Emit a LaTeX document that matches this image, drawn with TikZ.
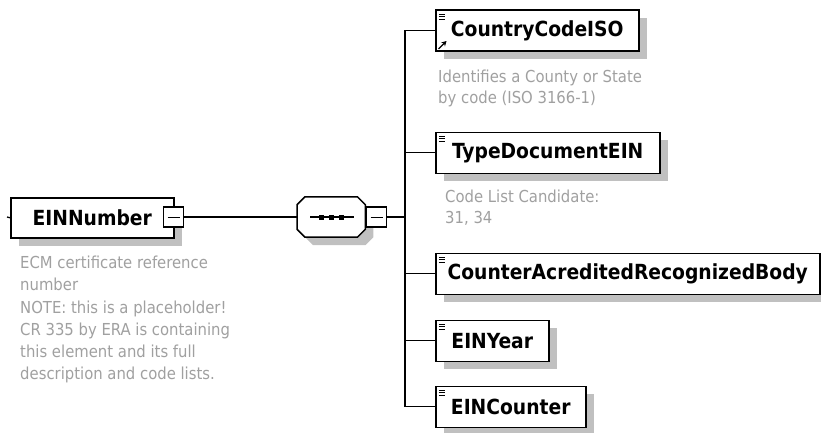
\documentclass[tikz,border=0pt]{standalone}
\usepackage{fontspec}
\setmainfont{DejaVu Sans Condensed}
\usetikzlibrary{shadows,arrows.meta}
\definecolor{desctext}{RGB}{160,160,160}
\definecolor{shadowgray}{RGB}{192,192,192}
\tikzset{
  elem/.style={draw, line width=1.5pt, fill=white, inner sep=0pt, minimum height=40pt,
    anchor=north west, font=\fontsize{20.8}{22}\selectfont\bfseries,
    drop shadow={shadow xshift=8pt, shadow yshift=-8pt, fill=shadowgray, opacity=1}},
  childelem/.style={elem, minimum height=41pt,
    path picture={\foreach \i in {4,6.5,9}
      \draw[line width=1.1pt] ([xshift=3pt,yshift=-\i pt]path picture bounding box.north west) -- ++(6.5pt,0);}},
  minusbox/.style={draw, line width=1.3pt, fill=white, minimum size=20pt, inner sep=0pt, anchor=west,
    path picture={\draw[line width=1pt] ([xshift=4pt]path picture bounding box.west)
      -- ([xshift=-4pt]path picture bounding box.east);}},
  seqbox/.style={inner sep=0pt, minimum width=68pt, minimum height=40pt, anchor=west},
  seqoutline/.style={insert path={([xshift=8pt]seq.north west) -- ([xshift=-8pt]seq.north east)
    -- ([yshift=-8pt]seq.north east) -- ([yshift=8pt]seq.south east) -- ([xshift=-8pt]seq.south east)
    -- ([xshift=8pt]seq.south west) -- ([yshift=8pt]seq.south west) -- ([yshift=-8pt]seq.north west) -- cycle}},
  desc/.style={anchor=north west, inner sep=0pt, align=left, text=desctext,
    font=\fontsize{16.5}{21}\selectfont},
  conn/.style={line width=1.3pt}
}
\begin{document}
\begin{tikzpicture}[x=1pt, y=-1pt]
\useasboundingbox (0,0) rectangle (821,433);
% root element
\node[elem, minimum width=163pt] (einnumber) at (10,197) {EINNumber};
\node[minusbox] (einnumber-m) at (163,217) {};
\coordinate (stub) at (7,217);
\draw[conn] (stub) -- (einnumber.west);
\node[desc, font=\fontsize{16.5}{22.2}\selectfont] (einnumber-d) at (20,256) {ECM certificate reference\\number\\NOTE: this is a placeholder!\\CR 335 by ERA is containing\\this element and its full\\description and code lists.};
% sequence
\node[seqbox] (seq) at (297,217) {};
\begin{scope}[transform canvas={xshift=8pt, yshift=-8pt}]
\fill[shadowgray, seqoutline];
\end{scope}
\draw[line width=1.5pt, fill=white, seqoutline];
\node[minusbox] (seq-m) at (366,217) {};
\draw[conn] (einnumber-m) -- (seq);
\draw[line width=1.2pt] ([xshift=13pt]seq.west) -- ([xshift=-11pt]seq.east);
\foreach \dx in {-10,0,10}
  \fill ([xshift=\dx pt]seq.center) +(-2.5,-2.5) rectangle +(2.5,2.5);
\coordinate (bus) at (405,217);
\draw[conn] (seq-m.east) -- (bus);
% children
\node[childelem, minimum width=203pt] (country) at (435,9.5) {CountryCodeISO};
\draw[line width=1.4pt, -{Stealth[length=5pt,width=5.5pt]}] ([xshift=3.5pt,yshift=3pt]country.south west) -- ++(8,-8);
\node[desc] (country-d) at (438,70) {Identifies a County or State\\by code (ISO 3166-1)};
\node[childelem, minimum width=224pt] (typedoc) at (435,131.5) {TypeDocumentEIN};
\node[desc, font=\fontsize{16.5}{20.5}\selectfont] (typedoc-d) at (445,190) {Code List Candidate:\\31, 34};
\node[childelem, minimum width=384pt] (counterbody) at (435,252.5) {CounterAcreditedRecognizedBody};
\node[childelem, minimum width=113pt] (einyear) at (435,319.5) {EINYear};
\node[childelem, minimum width=150pt] (eincounter) at (435,385.5) {EINCounter};
\foreach \c in {country,typedoc,counterbody,einyear,eincounter}
  \draw[conn] (bus) |- (\c.west);
\end{tikzpicture}
\end{document}
